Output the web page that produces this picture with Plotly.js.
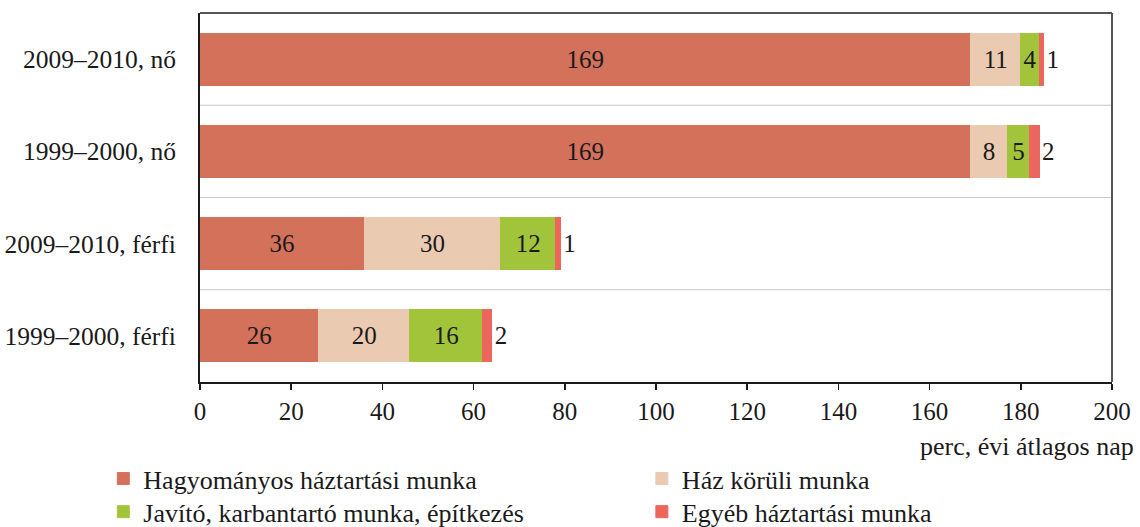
<!DOCTYPE html>
<html>
<head>
<meta charset="utf-8">
<script src="https://cdn.plot.ly/plotly-3.0.1.min.js"></script>
<style>html,body{margin:0;padding:0;background:#fff;}#chart{width:1140px;height:527px;}</style>
</head>
<body>
<div id="chart"></div>
<script>
const categories = ["1999–2000, férfi", "2009–2010, férfi", "1999–2000, nő", "2009–2010, nő"];
const seriesNames = ["Hagyományos háztartási munka", "Ház körüli munka", "Javító, karbantartó munka, építkezés", "Egyéb háztartási munka"];
const hagyomanyos = [26, 36, 169, 169];
const hazKoruli = [20, 30, 8, 11];
const javito = [16, 12, 5, 4];
const egyeb = [2, 1, 2, 1];
const colors = ["#D4715A", "#EACBB1", "#A2C43A", "#EC665E"];
const xTicks = [0, 20, 40, 60, 80, 100, 120, 140, 160, 180, 200];
const axisNote = "perc, évi átlagos nap";

const FONT = "Liberation Serif";
const values = [hagyomanyos, hazKoruli, javito, egyeb];
const legendOf = ["legend", "legend2", "legend3", "legend4"];

const traces = values.map((v, i) => ({
  type: "bar",
  orientation: "h",
  name: seriesNames[i],
  legend: legendOf[i],
  y: categories,
  x: v,
  text: v.map(String),
  textposition: i === 3 ? "outside" : "inside",
  insidetextanchor: "middle",
  constraintext: "none",
  textangle: 0,
  cliponaxis: false,
  textfont: {family: FONT, size: 25, color: "#1a1a1a"},
  marker: {color: colors[i], line: {width: 1, color: colors[i]}},
  hoverinfo: "skip"
}));

const legendBase = {
  orientation: "v", xanchor: "left", yanchor: "top",
  itemwidth: 30, traceorder: "normal",
  font: {family: FONT, size: 26, color: "#1a1a1a"},
  bgcolor: "rgba(0,0,0,0)"
};

const layout = {
  width: 1140, height: 527,
  margin: {l: 200, r: 28, t: 13, b: 145, autoexpand: false},
  paper_bgcolor: "#fff", plot_bgcolor: "#fff",
  barmode: "stack",
  bargap: 0.435,
  font: {family: FONT, size: 25, color: "#1a1a1a"},
  xaxis: {
    range: [0, 200], tickvals: xTicks, ticktext: xTicks.map(String),
    showgrid: false, zeroline: false,
    showline: true, linecolor: "#1a1a1a", linewidth: 2,
    ticks: "outside", ticklen: 6, tickwidth: 1.5, tickcolor: "#1a1a1a",
    tickfont: {family: FONT, size: 25, color: "#1a1a1a"},
    fixedrange: true
  },
  yaxis: {
    type: "category", categoryorder: "array", categoryarray: categories,
    range: [-0.5, 3.5],
    showgrid: false, zeroline: false,
    showline: true, linecolor: "#1a1a1a", linewidth: 2,
    ticks: "", ticklabelstandoff: 17,
    tickfont: {family: FONT, size: 25.5, color: "#1a1a1a"},
    fixedrange: true
  },
  shapes: [
    {type: "line", xref: "paper", yref: "y", x0: 0, x1: 1, y0: 0.5, y1: 0.5, line: {color: "#c8c8c8", width: 1}, layer: "below"},
    {type: "line", xref: "paper", yref: "y", x0: 0, x1: 1, y0: 1.5, y1: 1.5, line: {color: "#c8c8c8", width: 1}, layer: "below"},
    {type: "line", xref: "paper", yref: "y", x0: 0, x1: 1, y0: 2.5, y1: 2.5, line: {color: "#c8c8c8", width: 1}, layer: "below"},
    {type: "line", xref: "paper", yref: "paper", x0: 0, x1: 1, y0: 1, y1: 1, line: {color: "#555", width: 2}},
    {type: "line", xref: "paper", yref: "paper", x0: 1, x1: 1, y0: 0, y1: 1, line: {color: "#555", width: 2}}
  ],
  annotations: [
    {text: axisNote, xref: "paper", yref: "paper", x: 1.0263, y: -0.175, xanchor: "right", yanchor: "middle", showarrow: false, font: {family: FONT, size: 26, color: "#1a1a1a"}}
  ],
  showlegend: true,
  legend: Object.assign({}, legendBase, {x: -0.106, y: -0.198}),
  legend2: Object.assign({}, legendBase, {x: 0.4845, y: -0.198}),
  legend3: Object.assign({}, legendBase, {x: -0.106, y: -0.288}),
  legend4: Object.assign({}, legendBase, {x: 0.4845, y: -0.288}),
  hovermode: false
};

Plotly.newPlot("chart", traces, layout, {displayModeBar: false, staticPlot: true});
</script>
</body>
</html>
